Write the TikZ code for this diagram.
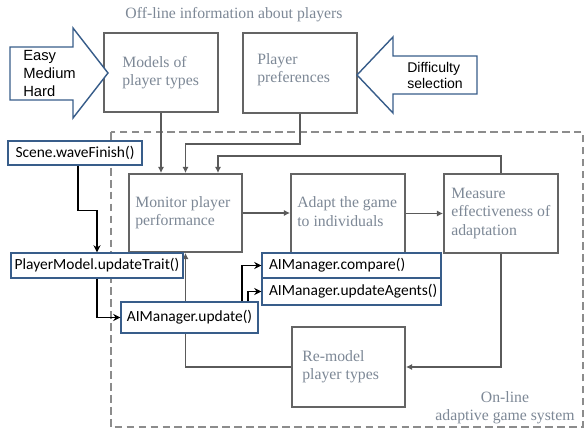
\documentclass[tikz,border=0pt]{standalone}
\usepackage{fontspec}
\setmainfont{Liberation Serif}
\newfontfamily\calibrifont{Carlito}
\newfontfamily\arialfont{Liberation Sans}
\usepackage{tikz}
\usetikzlibrary{arrows.meta}
\definecolor{boxgrey}{RGB}{100,100,100}
\definecolor{linegrey}{RGB}{90,90,90}
\definecolor{textgrey}{RGB}{125,136,150}
\definecolor{dashgrey}{RGB}{140,140,140}
\definecolor{codeblue}{RGB}{56,93,138}
\tikzset{
    greybox/.style={shape=rectangle, draw=boxgrey, line width=1.3pt, fill=white},
    greytext/.style={inner sep=0pt, align=left, text=textgrey, font=\fontsize{11.2}{13}\selectfont},
    codebox/.style={shape=rectangle, draw=codeblue, line width=1pt, fill=white, inner sep=0pt, font=\calibrifont\fontsize{11}{13}\selectfont},
    arialtext/.style={inner sep=0pt, align=left, text=black},
    blockarrow/.style={draw=codeblue, line width=1pt, fill=white, line join=miter},
    flow/.style={draw=linegrey, line width=1.1pt, -{Latex[length=4.5pt,width=4.5pt]}},
    call/.style={draw=black, line width=1pt, -{Stealth[length=5pt,width=5pt]}},
}

\begin{document}
\begin{tikzpicture}
    	\useasboundingbox (0,0) rectangle (14.625,10.725);
    	% On-line frame:
    	\draw[dashgrey, line width=1pt, dash pattern=on 5.5pt off 3pt] (2.775,7.425) rectangle (14.575,0.05);
    	% Grey boxes and their texts:
    	\node[greytext](Title) at (5.85, 10.35){Off-line information about players};
    	\node[greybox, minimum width=2.85cm, minimum height=1.975cm](Models) at (4.025, 8.9125){} node[greytext, anchor=west](ModelsT) at ([xshift=0.475cm]Models.west){Models of\\player types};
    	\node[greybox, minimum width=2.85cm, minimum height=2cm](Prefs) at (7.5, 8.9){} node[greytext, anchor=west](PrefsT) at ([xshift=0.375cm, yshift=0.0875cm]Prefs.west){Player\\preferences};
    	\node[greybox, minimum width=2.825cm, minimum height=1.95cm](Monitor) at (4.6375, 5.4){} node[greytext, anchor=west](MonitorT) at ([xshift=0.175cm]Monitor.west){Monitor player\\performance};
    	\node[greybox, minimum width=2.85cm, minimum height=1.975cm](Adapt) at (8.7, 5.3875){} node[greytext, anchor=west](AdaptT) at ([xshift=0.175cm, yshift=0.05cm]Adapt.west){Adapt the game\\to individuals};
    	\node[greybox, minimum width=2.85cm, minimum height=1.975cm](Measure) at (12.525, 5.3875){} node[greytext, anchor=west](MeasureT) at ([xshift=0.2cm]Measure.west){Measure\\effectiveness of\\adaptation};
    	\node[greybox, minimum width=2.825cm, minimum height=2cm](Remodel) at (8.7125, 1.55){} node[greytext, anchor=west](RemodelT) at ([xshift=0.275cm]Remodel.west){Re-model\\player types};
    	\node[greytext, align=center](Online) at (12.625, 0.525){On-line\\adaptive game system};
    	% Grey wires:
    	\draw[flow] (Models.south) -- (Models.south |- Monitor.north);
    	\draw[flow] (Prefs.south) -- ++(0,-0.75) -| (Monitor.north);
    	\draw[flow] (Measure.north) -- ++(0,0.425) -| ([xshift=0.8125cm]Monitor.north);
    	\draw[flow] (Monitor.east) -- (Monitor.east -| Adapt.west);
    	\draw[flow] (Adapt.east) -- (Measure.west);
    	\draw[flow] (Measure.south) |- (Remodel.east);
    	\draw[flow] (Remodel.west) -| (Monitor.south);
    	% Block arrows:
    	\draw[blockarrow] (0.25,9.55) -- (1.825,9.55) -- (1.825,10.025) -- (2.7,8.9) -- (1.825,7.775) -- (1.825,8.225) -- (0.25,8.225) -- cycle;
    	\node[arialtext, font=\arialfont\fontsize{10.5}{12.8}\selectfont, anchor=west](Levels) at (0.575, 8.8875){Easy\\Medium\\Hard};
    	\draw[blockarrow] (8.925,8.85) -- (9.825,9.8) -- (9.825,9.325) -- (11.925,9.325) -- (11.925,8.375) -- (9.825,8.375) -- (9.825,7.9) -- cycle;
    	\node[arialtext, font=\arialfont\fontsize{10}{10.8}\selectfont, anchor=west](Difficulty) at (10.175, 8.8375){Difficulty\\selection};
    	% Code boxes:
    	\node[codebox, minimum width=3.35cm, minimum height=0.6cm](Scene) at (1.875, 6.9){Scene.waveFinish()};
    	\node[codebox, minimum width=4.3cm, minimum height=0.625cm](PM) at (2.425, 4.0875){PlayerModel.updateTrait()};
    	\node[codebox, minimum width=3.425cm, minimum height=0.775cm](AIU) at (4.7375, 2.7875){AIManager.update()};
    	\node[codebox, minimum width=4.475cm, minimum height=0.625cm](AIC) at (8.7875, 4.0875){} node[codebox, draw=none, fill=none, anchor=west](AICT) at ([xshift=0.175cm]AIC.west){AIManager.compare()};
    	\node[codebox, minimum width=4.475cm, minimum height=0.675cm](AIA) at (8.7875, 3.4375){} node[codebox, draw=none, fill=none, anchor=west](AIAT) at ([xshift=0.175cm]AIA.west){AIManager.updateAgents()};
    	% Calls:
    	\draw[call] ([xshift=0.075cm]Scene.south) -- ++(0,-1.125) -| (PM.north);
    	\draw[call] (PM.south) |- (AIU.west);
    	\draw[call] ([xshift=1.3125cm]AIU.north) |- (AIC.west);
    	\draw[call] ([xshift=1.4625cm]AIU.north) |- (AIA.west);
\end{tikzpicture}
\end{document}
